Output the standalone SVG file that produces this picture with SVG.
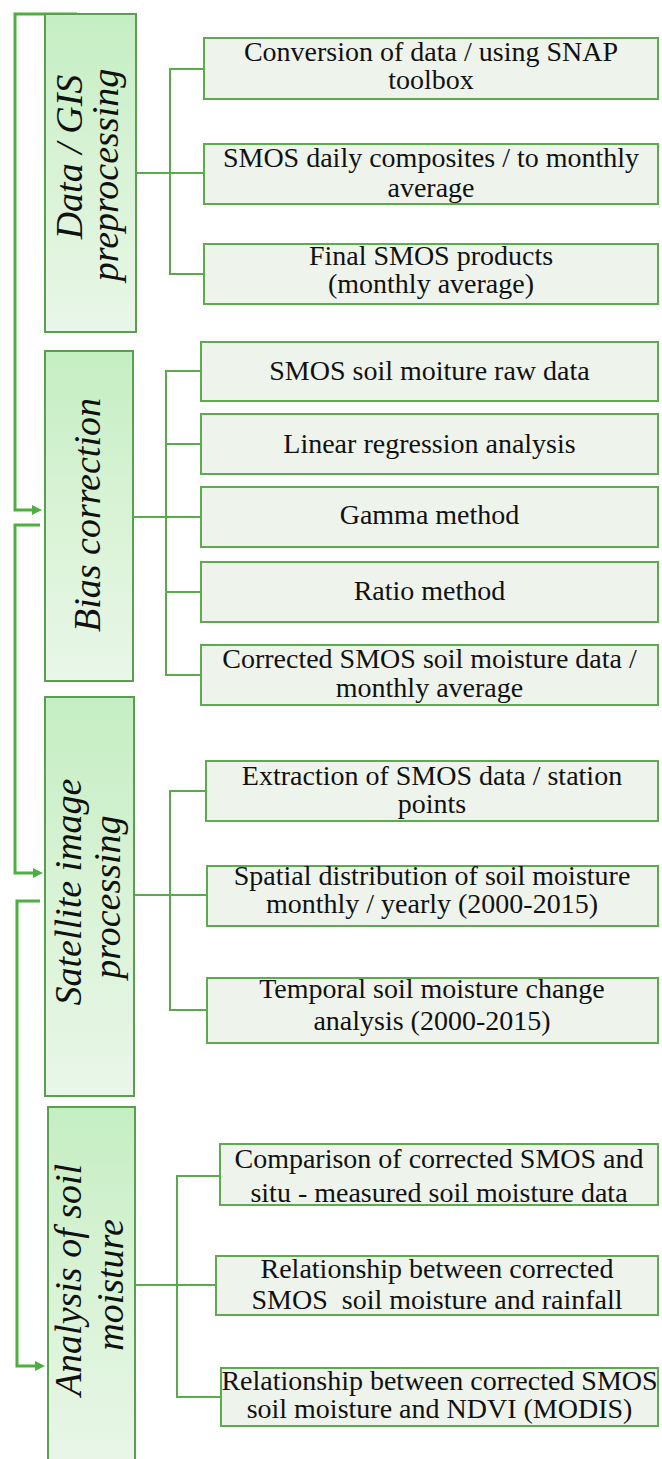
<svg xmlns="http://www.w3.org/2000/svg" width="662" height="1459" viewBox="0 0 662 1459">
  <style>
    .stage { stroke: #5a9e4f; stroke-width: 2; fill: url(#stageFill); }
    .step { stroke: #5cab4c; stroke-width: 2; fill: #eef4ec; }
    .stage-label { font-family: "Liberation Serif", "Times New Roman", serif; font-style: italic; font-size: 38px; fill: #111; text-anchor: middle; }
    .step-label { font-family: "Liberation Serif", "Times New Roman", serif; font-size: 28px; fill: #111; text-anchor: middle; }
    .branch { stroke: #5aa94c; stroke-width: 2; fill: none; }
    .flow { stroke: #4cb040; stroke-width: 3; fill: none; marker-end: url(#arrow); }
  </style>
  <defs>
    <linearGradient id="stageFill" x1="0" y1="0" x2="0" y2="1">
      <stop offset="0" stop-color="#c5eec3"/>
      <stop offset="0.5" stop-color="#d9f3d6"/>
      <stop offset="1" stop-color="#e9f6e8"/>
    </linearGradient>
    <marker id="arrow" markerUnits="userSpaceOnUse" markerWidth="10" markerHeight="10" refX="0" refY="5" orient="auto">
      <path d="M0,0 L10,5 L0,10 z" fill="#4cb040"/>
    </marker>
  </defs>

  <rect width="662" height="1459" fill="#ffffff"/>

  <!-- connectors -->
  <g id="connectors">
    <!-- stage-to-stage flow along the left margin -->
    <path class="flow" d="M77,14 H15 V510 H32"/>
    <path class="flow" d="M40,525 H15 V873 H33"/>
    <path class="flow" d="M40,901 H17 V1366 H35"/>
    <!-- Data / GIS preprocessing branches -->
    <path class="branch" d="M136,173 H204 M204,69 H170 V274 H204"/>
    <!-- Bias correction branches -->
    <path class="branch" d="M133,517 H201 M201,371 H166 V675 H201 M166,444 H201 M166,592 H201"/>
    <!-- Satellite image processing branches -->
    <path class="branch" d="M134,895 H207 M206,791 H170 V1010 H207"/>
    <!-- Analysis of soil moisture branches -->
    <path class="branch" d="M135,1285 H216 M220,1176 H177 V1397 H221"/>
  </g>

  <!-- stage: Data / GIS preprocessing -->
  <g id="stage-preprocessing">
    <rect class="stage" x="45" y="14" width="91" height="318"/>
    <text class="stage-label" transform="translate(82,157) rotate(-90)">Data / GIS</text>
    <text class="stage-label" transform="translate(118,175) rotate(-90)">preprocessing</text>
  </g>
  <g id="step-conversion">
    <rect class="step" x="204" y="38" width="454" height="61"/>
    <text class="step-label" x="431" y="61">Conversion of data / using SNAP</text>
    <text class="step-label" x="431" y="89">toolbox</text>
  </g>
  <g id="step-daily-composites">
    <rect class="step" x="204" y="144" width="454" height="60"/>
    <text class="step-label" x="431" y="167">SMOS daily composites / to monthly</text>
    <text class="step-label" x="431" y="197">average</text>
  </g>
  <g id="step-final-products">
    <rect class="step" x="204" y="244" width="454" height="60"/>
    <text class="step-label" x="431" y="265">Final SMOS products</text>
    <text class="step-label" x="431" y="293">(monthly average)</text>
  </g>

  <!-- stage: Bias correction -->
  <g id="stage-bias">
    <rect class="stage" x="45" y="351" width="88" height="330"/>
    <text class="stage-label" transform="translate(100,515) rotate(-90)">Bias correction</text>
  </g>
  <g id="step-raw-data">
    <rect class="step" x="201" y="342" width="457" height="59"/>
    <text class="step-label" x="429.5" y="380">SMOS soil moiture raw data</text>
  </g>
  <g id="step-linear-regression">
    <rect class="step" x="201" y="414" width="457" height="60"/>
    <text class="step-label" x="429.5" y="453">Linear regression analysis</text>
  </g>
  <g id="step-gamma">
    <rect class="step" x="201" y="487" width="457" height="60"/>
    <text class="step-label" x="429.5" y="524">Gamma method</text>
  </g>
  <g id="step-ratio">
    <rect class="step" x="201" y="562" width="457" height="60"/>
    <text class="step-label" x="429.5" y="600">Ratio method</text>
  </g>
  <g id="step-corrected">
    <rect class="step" x="201" y="645" width="457" height="60"/>
    <text class="step-label" x="429.5" y="668">Corrected SMOS soil moisture data /</text>
    <text class="step-label" x="429.5" y="697">monthly average</text>
  </g>

  <!-- stage: Satellite image processing -->
  <g id="stage-satellite">
    <rect class="stage" x="45" y="697" width="89" height="399"/>
    <text class="stage-label" transform="translate(81,892) rotate(-90)">Satellite image</text>
    <text class="stage-label" transform="translate(120,897) rotate(-90)">processing</text>
  </g>
  <g id="step-extraction">
    <rect class="step" x="206" y="761" width="452" height="60"/>
    <text class="step-label" x="432" y="785">Extraction of SMOS data / station</text>
    <text class="step-label" x="432" y="813">points</text>
  </g>
  <g id="step-spatial">
    <rect class="step" x="207" y="866" width="451" height="60"/>
    <text class="step-label" x="432" y="885">Spatial distribution of soil moisture</text>
    <text class="step-label" x="432" y="913">monthly / yearly (2000-2015)</text>
  </g>
  <g id="step-temporal">
    <rect class="step" x="207" y="978" width="451" height="65"/>
    <text class="step-label" x="432" y="998">Temporal soil moisture change</text>
    <text class="step-label" x="432" y="1030">analysis (2000-2015)</text>
  </g>

  <!-- stage: Analysis of soil moisture -->
  <g id="stage-analysis">
    <rect class="stage" x="48" y="1107" width="87" height="362"/>
    <text class="stage-label" transform="translate(81,1280) rotate(-90)">Analysis of soil</text>
    <text class="stage-label" transform="translate(123,1285) rotate(-90)">moisture</text>
  </g>
  <g id="step-comparison">
    <rect class="step" x="220" y="1144" width="438" height="61"/>
    <text class="step-label" x="439" y="1168">Comparison of corrected SMOS and</text>
    <text class="step-label" x="439" y="1202">situ - measured soil moisture data</text>
  </g>
  <g id="step-rainfall">
    <rect class="step" x="216" y="1256" width="442" height="59"/>
    <text class="step-label" x="437" y="1278">Relationship between corrected</text>
    <text class="step-label" x="437" y="1309" style="white-space:pre">SMOS  soil moisture and rainfall</text>
  </g>
  <g id="step-ndvi">
    <rect class="step" x="221" y="1368" width="437" height="58"/>
    <text class="step-label" x="439.5" y="1390">Relationship between corrected SMOS</text>
    <text class="step-label" x="439.5" y="1418">soil moisture and NDVI (MODIS)</text>
  </g>
</svg>
